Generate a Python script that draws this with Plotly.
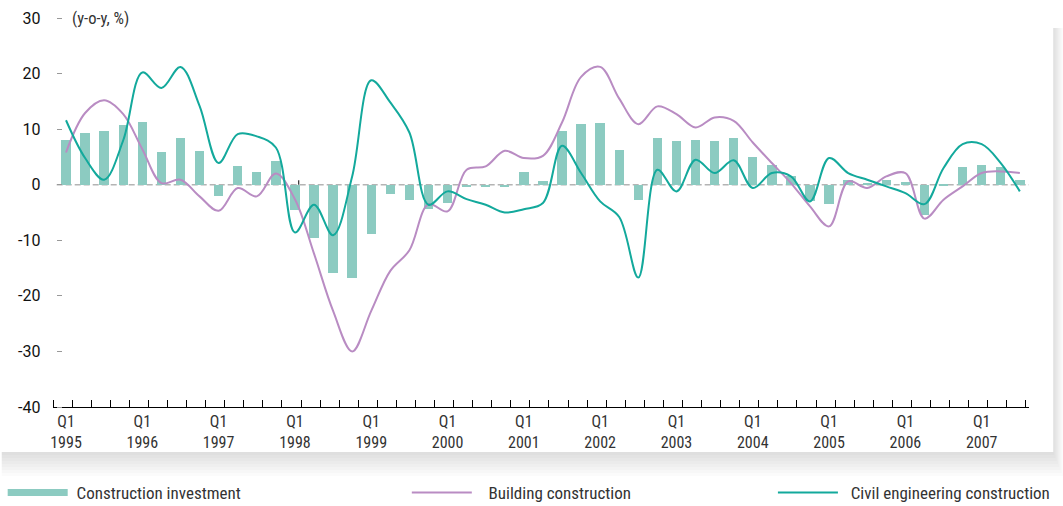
import plotly.graph_objects as go

# ---- data (quarterly, 1995 Q1 .. 2007 Q3) ----
years = list(range(1995, 2008))
construction_investment = [
    8.0, 9.3, 9.6, 10.7,
    11.3, 5.8, 8.4, 6.0,
    -2.1, 3.3, 2.2, 4.2,
    -4.5, -9.6, -15.9, -16.8,
    -8.8, -1.6, -2.7, -4.3,
    -3.2, -0.4, -0.4, -0.4,
    2.2, 0.7, 9.6, 10.9,
    11.1, 6.2, -2.7, 8.4,
    7.8, 8.0, 7.8, 8.4,
    4.9, 3.5, 1.6, -3.0,
    -3.4, 0.9, 0.3, 0.9,
    0.4, -5.4, -0.3, 3.1,
    3.6, 3.1, 0.9,
]
building_construction = [
    5.8, 12.9, 15.2, 12.7,
    6.4, 0.3, 0.9, -2.1,
    -4.7, -0.6, -2.1, 2.0,
    -2.6, -12.4, -22.7, -30.0,
    -22.7, -15.5, -11.8, -3.5,
    -4.8, 2.7, 3.3, 6.1,
    4.8, 5.2, 11.2, 19.4,
    21.2, 15.5, 10.9, 14.1,
    12.7, 10.3, 12.1, 11.5,
    7.6, 3.9, 0.3, -3.9,
    -7.5, 0.6, -0.6, 1.5,
    2.1, -6.1, -2.7, -0.3,
    2.1, 2.4, 2.1,
]
civil_engineering = [
    11.6, 4.8, 0.9, 8.0,
    20.2, 17.4, 21.2, 14.2,
    3.9, 9.1, 8.7, 6.7,
    -8.6, -3.6, -9.1, 1.5,
    18.8, 14.8, 9.4, -3.6,
    -1.2, -2.6, -3.6, -5.0,
    -4.4, -3.3, 7.0, 2.1,
    -3.0, -5.8, -16.7, 2.7,
    -1.2, 4.5, 2.1, 4.4,
    -0.6, 2.1, 1.5, -3.0,
    4.8, 2.1, 0.9, -0.3,
    -1.5, -3.5, 3.0, 7.3,
    7.3, 3.9, -1.2,
]
y_ticks = [-40, -30, -20, -10, 0, 10, 20, 30]
y_tick_labels = ["-40", "-30", "-20", "-10", "0", "10", "20", "30"]
x_tick_labels = [f"Q1<br>{y}" for y in years]

# ---- styling ----
W, H = 1063, 506
PL, PR, PT, PB = 53.3, 1029.0, 18.0, 407.0
BAR_C = "#8ccbc1"
BUILD_C = "#b98cc3"
CIVIL_C = "#13a99c"
NARROW = "Liberation Sans Narrow, Arial Narrow, Roboto Condensed, Roboto, sans-serif"
REG = "Roboto, Liberation Sans, sans-serif"
NB = "\u00a0"

def px_x(px):
    return (px - PL) / (PR - PL)

def px_y(py):
    return (PB - py) / (PB - PT)

n = len(construction_investment)
xq = list(range(n))

fig = go.Figure()
fig.add_trace(go.Bar(
    x=xq, y=construction_investment, width=0.49, marker_color=BAR_C,
    marker_line_width=0, showlegend=False, name="Construction investment",
))
fig.add_trace(go.Scatter(
    x=xq, y=building_construction, mode="lines",
    line=dict(color=BUILD_C, width=2, shape="spline", smoothing=1.0),
    name=NB * 3 + "Building construction", legend="legend2",
))
fig.add_trace(go.Scatter(
    x=xq, y=civil_engineering, mode="lines",
    line=dict(color=CIVIL_C, width=2, shape="spline", smoothing=1.0),
    name=NB * 2 + "Civil engineering construction", legend="legend3",
))
# legend entry for the bars (wide flat swatch)
fig.add_trace(go.Scatter(
    x=[None], y=[None], mode="lines", line=dict(color=BAR_C, width=7),
    name=NB + "Construction investment", legend="legend",
))

shapes = []
# zero line dashed
shapes.append(dict(type="line", xref="paper", yref="y", x0=px_x(57), x1=1.0,
                   y0=0, y1=0, line=dict(color="#b4b4b4", width=1.5, dash="6px,3px"),
                   layer="below"))
# small black tick near zero line
shapes.append(dict(type="line", xref="x", yref="y", x0=12.2, x1=12.2, y0=0, y1=0.8,
                   line=dict(color="#000", width=1)))
# card shadows
for k in range(1, 9):
    shapes.append(dict(type="rect", xref="paper", yref="paper",
                       x0=px_x(2), x1=px_x(1053 + 1.25 * k),
                       y0=px_y(452), y1=px_y(452 + 3 * k),
                       fillcolor="rgba(0,0,0,0.016)", line_width=0, layer="below"))
    shapes.append(dict(type="rect", xref="paper", yref="paper",
                       x0=px_x(1053), x1=px_x(1053 + 1.25 * k),
                       y0=px_y(452), y1=px_y(28),
                       fillcolor="rgba(0,0,0,0.016)", line_width=0, layer="below"))

leg_common = dict(orientation="h", itemwidth=60, bgcolor="rgba(0,0,0,0)",
                  font=dict(family=NARROW, size=17, color="#333"),
                  xanchor="left", yanchor="middle", y=px_y(493),
                  itemclick=False, itemdoubleclick=False)

fig.update_layout(
    width=W, height=H,
    margin=dict(l=PL, r=W - PR, t=PT, b=H - PB, pad=0, autoexpand=False),
    paper_bgcolor="white", plot_bgcolor="rgba(0,0,0,0)",
    bargap=0,
    shapes=shapes,
    legend=dict(**leg_common, x=px_x(3)),
    legend2=dict(**leg_common, x=px_x(407)),
    legend3=dict(**leg_common, x=px_x(773)),
    annotations=[dict(text="(y-o-y, %)", xref="paper", yref="y", x=px_x(70), y=30,
                      xanchor="left", yanchor="middle", showarrow=False,
                      font=dict(family=NARROW, size=16.5, color="#333"))],
    xaxis=dict(
        range=[-0.682, 50.48], showgrid=False, zeroline=False, automargin=False,
        showline=True, linecolor="#000", linewidth=1,
        tickmode="array", tickvals=[4 * i for i in range(len(years))],
        ticktext=x_tick_labels, ticks="", ticklen=0, ticklabelstandoff=0,
        tickfont=dict(family=NARROW, size=16, color="#333"),
        minor=dict(ticks="inside", ticklen=7, tickcolor="#000", tickwidth=1,
                   tickmode="linear", tick0=-0.682, dtick=1),
    ),
    yaxis=dict(
        range=[-40, 30], showgrid=False, zeroline=False, showline=False, automargin=False,
        anchor="free", position=px_x(62), tickmode="array", tickvals=y_ticks,
        ticktext=y_tick_labels,
        ticks="outside", ticklen=5, tickcolor="#999", tickwidth=1,
        ticklabelstandoff=13,
        tickfont=dict(family=REG, size=16, color="#111"),
    ),
)

fig.write_html("out.html", config={"displayModeBar": False},
               post_script="document.body.style.margin='0';document.body.style.overflow='hidden';")
